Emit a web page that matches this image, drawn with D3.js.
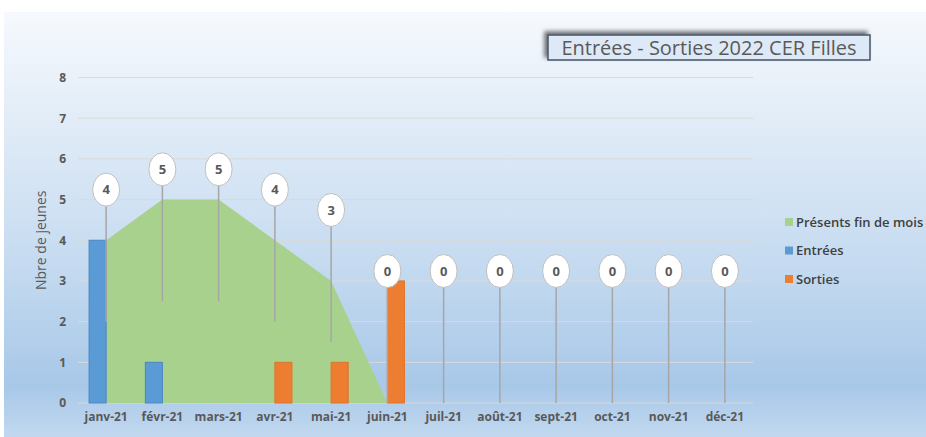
<!DOCTYPE html>
<html>
<head>
<meta charset="utf-8">
<script src="https://cdn.jsdelivr.net/npm/d3@7"></script>
<style>
  body { margin: 0; background: #fff; }
  svg { display: block; font-family: "Open Sans", sans-serif; }
</style>
</head>
<body>
<svg></svg>
<script>
const width = 926
const height = 437

// data
const months = ["janv-21", "févr-21", "mars-21", "avr-21", "mai-21", "juin-21",
                "juil-21", "août-21", "sept-21", "oct-21", "nov-21", "déc-21"]
const presents = [4, 5, 5, 4, 3, 0, 0, 0, 0, 0, 0, 0]
const entrees = [4, 1, 0, 0, 0, 0, 0, 0, 0, 0, 0, 0]
const sorties = [0, 0, 0, 1, 1, 3, 0, 0, 0, 0, 0, 0]
const yTicks = [0, 1, 2, 3, 4, 5, 6, 7, 8]
const seriesNames = ["Présents fin de mois", "Entrées", "Sorties"]
const colours = ["#a9d18e", "#5b9bd5", "#ed7d31"]

const svg = d3.select("svg")
  .attr("width", width)
  .attr("height", height)

const defs = svg.append("defs")
const grad = defs.append("linearGradient")
  .attr("id", "bg")
  .attr("x1", 0).attr("y1", 0).attr("x2", 0).attr("y2", 1)
grad.append("stop").attr("offset", "0%").attr("stop-color", "#f6f9fd")
grad.append("stop").attr("offset", "55%").attr("stop-color", "#c9ddf1")
grad.append("stop").attr("offset", "88%").attr("stop-color", "#a8c8e8")
grad.append("stop").attr("offset", "100%").attr("stop-color", "#c2d8ef")

const shadow = defs.append("filter").attr("id", "shadow")
  .attr("x", "-10%").attr("y", "-40%").attr("width", "120%").attr("height", "180%")
shadow.append("feDropShadow")
  .attr("dx", -3).attr("dy", -3).attr("stdDeviation", 2)
  .attr("flood-color", "#000").attr("flood-opacity", 0.55)

// chart background
svg.append("rect")
  .attr("x", 4).attr("y", 12)
  .attr("width", width - 4).attr("height", height - 12)
  .attr("fill", "url(#bg)")

const x = d3.scaleBand()
  .domain(months)
  .range([78, 753])

const x1 = d3.scaleBand()
  .domain(["Entrées", "Sorties"])
  .range([0, x.bandwidth()])
  .paddingOuter(0.65)

const y = d3.scaleLinear()
  .domain([0, 8])
  .range([403, 77.5])

const cx = m => x(m) + x.bandwidth() / 2

// gridlines
svg.append("g")
  .selectAll("line")
  .data(yTicks)
  .enter()
  .append("line")
  .attr("x1", 78).attr("x2", 753)
  .attr("y1", d => y(d)).attr("y2", d => y(d))
  .attr("stroke", "#d9d9d9")
  .attr("stroke-width", 1)

// y axis labels
const yAxis = svg.append("g")
  .attr("transform", "translate(72,0)")
  .call(d3.axisLeft(y).tickValues(yTicks).tickSize(0).tickPadding(6))
yAxis.select(".domain").remove()
yAxis.selectAll("text")
  .attr("fill", "#595959")
  .style("font-size", "12px")
  .style("font-weight", "bold")
  .style("font-family", "Open Sans")

// x axis labels
const xAxis = svg.append("g")
  .attr("transform", "translate(0,403)")
  .call(d3.axisBottom(x).tickSize(0).tickPadding(9))
xAxis.select(".domain").remove()
xAxis.selectAll("text")
  .attr("fill", "#595959")
  .style("font-size", "12px")
  .style("font-weight", "bold")
  .style("font-family", "Open Sans")

svg.append("text")
  .attr("transform", "translate(46," + y(4) + ") rotate(-90)")
  .attr("text-anchor", "middle")
  .attr("fill", "#595959")
  .style("font-size", "14px")
  .text("Nbre de jeunes")

// area "Présents fin de mois"
const area = d3.area()
  .x((d, i) => cx(months[i]))
  .y0(y(0))
  .y1(d => y(d))

svg.append("path")
  .datum(presents)
  .attr("d", area)
  .attr("fill", colours[0])

// bars
const barData = []
months.forEach((m, i) => {
  barData.push({month: m, key: "Entrées", value: entrees[i], colour: colours[1], stroke: "#4a86c5"})
  barData.push({month: m, key: "Sorties", value: sorties[i], colour: colours[2], stroke: "#e0722a"})
})

svg.append("g")
  .selectAll("rect")
  .data(barData.filter(d => d.value > 0))
  .enter()
  .append("rect")
  .attr("x", d => x(d.month) + x1(d.key))
  .attr("y", d => y(d.value))
  .attr("width", x1.bandwidth())
  .attr("height", d => y(0) - y(d.value))
  .attr("fill", d => d.colour)
  .attr("stroke", d => d.stroke)
  .attr("stroke-width", 1)

// callout labels for the area
const labelOffset = 132
const labels = svg.append("g")
  .selectAll("g")
  .data(presents)
  .enter()
  .append("g")
  .attr("transform", (d, i) => "translate(" + cx(months[i]) + ",0)")

labels.append("line")
  .attr("x1", 0).attr("x2", 0)
  .attr("y1", d => y(d / 2))
  .attr("y2", d => y(d / 2) - labelOffset)
  .attr("stroke", "#a6a6a6")
  .attr("stroke-width", 1.5)

labels.append("ellipse")
  .attr("cx", 0)
  .attr("cy", d => y(d / 2) - labelOffset)
  .attr("rx", 13.5)
  .attr("ry", 16.5)
  .attr("fill", "#fff")
  .attr("stroke", "#bfbfbf")
  .attr("stroke-width", 1)

labels.append("text")
  .attr("x", 0)
  .attr("y", d => y(d / 2) - labelOffset)
  .attr("dy", "0.35em")
  .attr("text-anchor", "middle")
  .attr("fill", "#595959")
  .style("font-size", "13px")
  .style("font-weight", "bold")
  .text(d => d)

// legend
const legend = svg.append("g")
  .selectAll("g")
  .data(seriesNames)
  .enter()
  .append("g")
  .attr("transform", (d, i) => "translate(785," + (222 + i * 28.5) + ")")

legend.append("rect")
  .attr("x", 0).attr("y", -4)
  .attr("width", 8).attr("height", 8)
  .attr("fill", (d, i) => colours[i])

legend.append("text")
  .attr("x", 11)
  .attr("dy", "0.35em")
  .attr("fill", "#404040")
  .style("font-size", "13px")
  .style("font-weight", "600")
  .text(d => d)

// title box
svg.append("rect")
  .attr("x", 548).attr("y", 35)
  .attr("width", 322).attr("height", 25)
  .attr("fill", "#dde9f6")
  .attr("stroke", "#44546a")
  .attr("stroke-width", 1.5)
  .attr("filter", "url(#shadow)")

svg.append("text")
  .attr("x", 709).attr("y", 47.5)
  .attr("dy", "0.35em")
  .attr("text-anchor", "middle")
  .attr("fill", "#595959")
  .style("font-size", "20px")
  .text("Entrées - Sorties 2022 CER Filles")
</script>
</body>
</html>
